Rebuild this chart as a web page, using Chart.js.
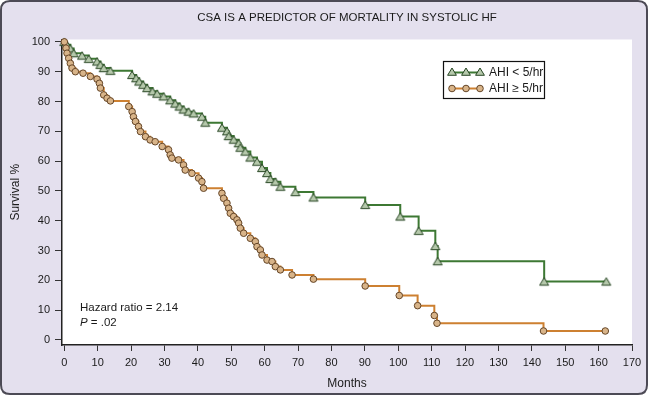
<!DOCTYPE html>
<html><head><meta charset="utf-8">
<script src="https://cdn.jsdelivr.net/npm/chart.js@4.4.0/dist/chart.umd.min.js"></script>
<style>html,body{margin:0;padding:0;background:#fff;overflow:hidden}#wrap{width:650px;height:396px;position:relative}</style>
</head><body><div id="wrap"><canvas id="c" width="650" height="396"></canvas></div>
<script>
const TITLE = "CSA IS A PREDICTOR OF MORTALITY IN SYSTOLIC HF";
const X_LABEL = "Months";
const Y_LABEL = "Survival %";
const SERIES_NAMES = ["AHI < 5/hr", "AHI \u2265 5/hr"];
const HAZARD_TEXT = "Hazard ratio = 2.14";
const P_TEXT = " = .02";

const monthsLow = [0,0.8,1.8,2.8,5.3,7.3,9.8,10.8,11.8,13.8,20.3,21.5,22.4,23.6,24.8,26.4,27.8,29.7,31.7,33.2,34.5,35.7,37.2,38.7,41.2,42.2,47.2,48.7,49.2,50.7,52.2,52.7,54.2,55.7,57.7,59.2,60.7,61.7,63.2,64.7,69.2,74.6,90.1,100.6,106.1,111.1,111.8,143.7,162.3];
const survivalLow = [100,99,97.8,96.2,95.4,94.3,93.4,92.3,91.2,90.3,88.9,87.8,86.7,85.6,84.5,83.4,82.6,81.7,80.4,79.3,78.3,77.3,76.6,76,74.9,72.9,71.2,70,68.4,67.2,66,64.5,63.2,61.2,59.8,57.7,56,54,53.1,51.4,49.6,47.8,45.3,41.4,36.6,31.5,26.4,19.6,19.6];

const monthsHigh = [0,0.5,0.8,1.3,1.8,2.3,3.3,5.6,7.8,9.8,10.5,10.8,11.8,12.8,13.8,19.3,20.3,20.7,21.3,22.2,22.8,24.3,25.7,27.2,29.3,31.2,31.7,32.2,34.2,35.7,36.2,38.2,40.2,41.2,41.7,47.2,47.7,48.7,49.2,49.7,50.7,51.7,52.2,52.7,53.7,55.7,57.2,57.7,58.7,59.2,60.7,62.2,63.2,64.7,68.2,74.6,90.1,100.3,105.8,110.8,111.6,143.5,162];
const survivalHigh = [100,97.9,96.2,94.5,92.8,91.2,90,89.5,88.4,87.5,86.1,84.5,82.2,81.1,80.2,78.3,76.6,74.9,73.3,71.6,69.9,68.2,67.1,66.5,64.9,63.8,62.1,61,60.4,58.7,57,55.9,54.3,53.1,50.9,49.2,47.5,45.9,44.2,42.5,41.4,40.3,39.2,37.5,35.8,34.1,33,31.3,30.2,28.5,26.8,26.3,24.6,23.5,21.8,20.4,18.1,14.9,11.5,8.2,5.6,3,3];

const xTickValues = [0,10,20,30,40,50,60,70,80,90,100,110,120,130,140,150,160,170];
const yTickValues = [0,10,20,30,40,50,60,70,80,90,100];

const GREEN = '#3d7833', GREEN_FILL = '#b5c8ab', GREEN_EDGE = '#284624';
const ORANGE = '#cd8031', ORANGE_FILL = '#d8b489', ORANGE_EDGE = '#654628';
const FONT = '"Liberation Sans", Arial, Helvetica, sans-serif';

function toPoints(xs, ys){ return xs.map((x,i)=>({x:x, y:ys[i]})); }

function drawTri(ctx, x, y, r){
  ctx.beginPath();
  ctx.moveTo(x, y - r);
  ctx.lineTo(x + r*0.98, y + r*0.62);
  ctx.lineTo(x - r*0.98, y + r*0.62);
  ctx.closePath();
  ctx.fillStyle = GREEN_FILL; ctx.fill();
  ctx.lineWidth = 1; ctx.strokeStyle = GREEN_EDGE; ctx.stroke();
}
function drawCirc(ctx, x, y, r){
  ctx.beginPath(); ctx.arc(x, y, r, 0, Math.PI*2);
  ctx.fillStyle = ORANGE_FILL; ctx.fill();
  ctx.lineWidth = 1; ctx.strokeStyle = ORANGE_EDGE; ctx.stroke();
}

const framePlugin = {
  id: 'frame',
  beforeDraw(chart){
    const ctx = chart.ctx, a = chart.chartArea;
    ctx.save();
    ctx.fillStyle = '#ffffff'; ctx.fillRect(0,0,chart.width,chart.height);
    const x0=1, y0=1, w=646, h=393, r=9;
    ctx.beginPath();
    ctx.moveTo(x0+r,y0); ctx.lineTo(x0+w-r,y0); ctx.quadraticCurveTo(x0+w,y0,x0+w,y0+r);
    ctx.lineTo(x0+w,y0+h-r); ctx.quadraticCurveTo(x0+w,y0+h,x0+w-r,y0+h);
    ctx.lineTo(x0+r,y0+h); ctx.quadraticCurveTo(x0,y0+h,x0,y0+h-r);
    ctx.lineTo(x0,y0+r); ctx.quadraticCurveTo(x0,y0,x0+r,y0); ctx.closePath();
    ctx.fillStyle = '#e4e0ee'; ctx.fill();
    ctx.lineWidth = 2; ctx.strokeStyle = '#4c4a55'; ctx.stroke();
    ctx.fillStyle = '#ffffff';
    ctx.fillRect(a.left, a.top, a.right - a.left, a.bottom - a.top);
    ctx.restore();
  },
  afterDraw(chart){
    const ctx = chart.ctx, a = chart.chartArea;
    ctx.save();
    ctx.fillStyle = '#1a1a1a';
    ctx.textBaseline = 'middle';
    ctx.textAlign = 'center';
    ctx.font = '11.5px ' + FONT;
    ctx.fillText(TITLE, (a.left + a.right)/2, 18);
    ctx.font = '12px ' + FONT;
    ctx.fillText(X_LABEL, (a.left + a.right)/2, 384);
    ctx.save();
    ctx.translate(16, (a.top + a.bottom)/2);
    ctx.rotate(-Math.PI/2);
    ctx.fillText(Y_LABEL, 0, 0);
    ctx.restore();
    // annotation
    ctx.textAlign = 'left';
    ctx.font = '11.5px ' + FONT;
    ctx.fillText(HAZARD_TEXT, 80, 308);
    ctx.font = 'italic 11.5px ' + FONT;
    ctx.fillText('P', 80, 323);
    const pw = ctx.measureText('P').width;
    ctx.font = '11.5px ' + FONT;
    ctx.fillText(P_TEXT, 80 + pw, 323);
    // legend
    const lx = 443.5, ly = 61.5, lw = 101, lh = 37;
    ctx.fillStyle = '#ffffff'; ctx.fillRect(lx, ly, lw, lh);
    ctx.lineWidth = 1.2; ctx.strokeStyle = '#111'; ctx.strokeRect(lx, ly, lw, lh);
    const rows = [ly + 11, ly + 27];
    ctx.lineWidth = 2; ctx.strokeStyle = GREEN;
    ctx.beginPath(); ctx.moveTo(451, rows[0]); ctx.lineTo(481, rows[0]); ctx.stroke();
    [452, 466, 480].forEach(x => drawTri(ctx, x, rows[0], 4.5));
    ctx.lineWidth = 2; ctx.strokeStyle = ORANGE;
    ctx.beginPath(); ctx.moveTo(451, rows[1]); ctx.lineTo(481, rows[1]); ctx.stroke();
    [452, 466, 480].forEach(x => drawCirc(ctx, x, rows[1], 3.3));
    ctx.fillStyle = '#1a1a1a';
    ctx.font = '12px ' + FONT;
    ctx.textAlign = 'left';
    ctx.fillText(SERIES_NAMES[0], 489, rows[0]);
    ctx.fillText(SERIES_NAMES[1], 489, rows[1]);
    ctx.restore();
  }
};

const triStyle = (function(){
  const c = document.createElement('canvas'); c.width = 12; c.height = 12;
  drawTri(c.getContext('2d'), 6, 6.8, 4.6);
  return c;
})();

new Chart(document.getElementById('c'), {
  type: 'line',
  data: {
    datasets: [
      { label: SERIES_NAMES[0], data: toPoints(monthsLow, survivalLow), stepped: 'before',
        borderColor: GREEN, borderWidth: 2, pointStyle: triStyle, pointRadius: 4,
        pointBackgroundColor: GREEN_FILL, pointBorderColor: GREEN_EDGE, fill: false, clip: false, order: 2 },
      { label: SERIES_NAMES[1], data: toPoints(monthsHigh, survivalHigh), stepped: 'before',
        borderColor: ORANGE, borderWidth: 2, pointStyle: 'circle', pointRadius: 3.3,
        pointBackgroundColor: ORANGE_FILL, pointBorderColor: ORANGE_EDGE, pointBorderWidth: 1, fill: false, clip: false, order: 1 }
    ]
  },
  options: {
    responsive: false, animation: false, devicePixelRatio: 1,
    layout: { padding: { left: 0, top: 39.5, right: 18, bottom: 0 } },
    plugins: { legend: { display: false }, title: { display: false }, tooltip: { enabled: false } },
    scales: {
      x: {
        type: 'linear', min: -0.7, max: 170,
        afterBuildTicks(s){ s.ticks = xTickValues.map(v => ({value: v})); },
        afterFit(s){ s.height = 51; },
        grid: { drawOnChartArea: false, drawTicks: true, tickLength: 6, color: '#333', lineWidth: 1 },
        border: { display: true, color: '#222', width: 1.5 },
        ticks: { font: { size: 11, family: FONT }, color: '#1a1a1a', padding: 5, maxRotation: 0, autoSkip: false }
      },
      y: {
        type: 'linear', min: -1.7, max: 100.8,
        afterBuildTicks(s){ s.ticks = yTickValues.map(v => ({value: v})); },
        afterFit(s){ s.width = 62; },
        grid: { drawOnChartArea: false, drawTicks: true, tickLength: 7, color: '#333', lineWidth: 1 },
        border: { display: true, color: '#222', width: 1.5 },
        ticks: { font: { size: 11, family: FONT }, color: '#1a1a1a', padding: 5, autoSkip: false }
      }
    }
  },
  plugins: [framePlugin]
});
</script></body></html>
